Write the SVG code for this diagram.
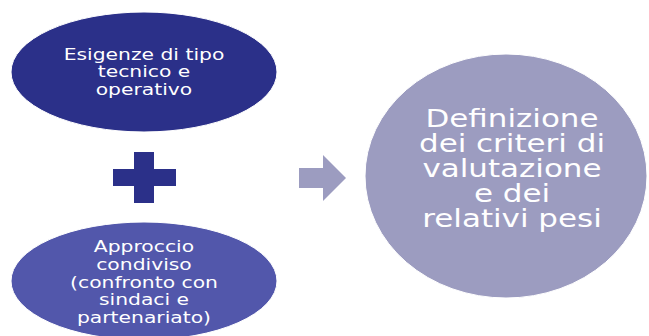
<svg xmlns="http://www.w3.org/2000/svg" width="649" height="336" viewBox="0 0 649 336">
<style>
.t{font-family:"DejaVu Sans",Verdana,sans-serif;fill:#ffffff;text-anchor:middle}
.s{font-size:16.5px}
.b{font-size:24px}
</style>
<rect width="649" height="336" fill="#ffffff"/>
<g id="node-esigenze">
<ellipse cx="144" cy="72" rx="133" ry="60" fill="#2b3089" stroke="#ffffff" stroke-width="1"/>
<g transform="matrix(1.23 0 0 1 -33.12 0)">
<text class="t s" x="144" y="60">Esigenze di tipo</text>
<text class="t s" x="144" y="77.5">tecnico e</text>
<text class="t s" x="144" y="95">operativo</text>
</g>
</g>
<g id="node-plus">
<path d="M134 152H154V169H176V186H154V203H134V186H113V169H134Z" fill="#2b3089"/>
</g>
<g id="node-approccio">
<ellipse cx="144" cy="281" rx="133" ry="59" fill="#5257ab" stroke="#ffffff" stroke-width="1"/>
<g transform="matrix(1.23 0 0 1 -33.12 0)">
<text class="t s" x="144" y="252">Approccio</text>
<text class="t s" x="144" y="270">condiviso</text>
<text class="t s" x="144" y="288">(confronto con</text>
<text class="t s" x="144" y="305">sindaci e</text>
<text class="t s" x="144" y="323">partenariato)</text>
</g>
</g>
<g id="connectors">
<path d="M299 168H323V155L346 178L323 201V188H299Z" fill="#9c9cc0"/>
</g>
<g id="node-definizione">
<ellipse cx="506" cy="176" rx="141" ry="122" fill="#9c9cc0" stroke="#ffffff" stroke-width="1"/>
<g transform="matrix(1.29 0 0 1 -148.48 0)">
<text class="t b" x="512" y="127">Definizione</text>
<text class="t b" x="512" y="152">dei criteri di</text>
<text class="t b" x="512" y="177">valutazione</text>
<text class="t b" x="512" y="202">e dei</text>
<text class="t b" x="512" y="227">relativi pesi</text>
</g>
</g>
</svg>
